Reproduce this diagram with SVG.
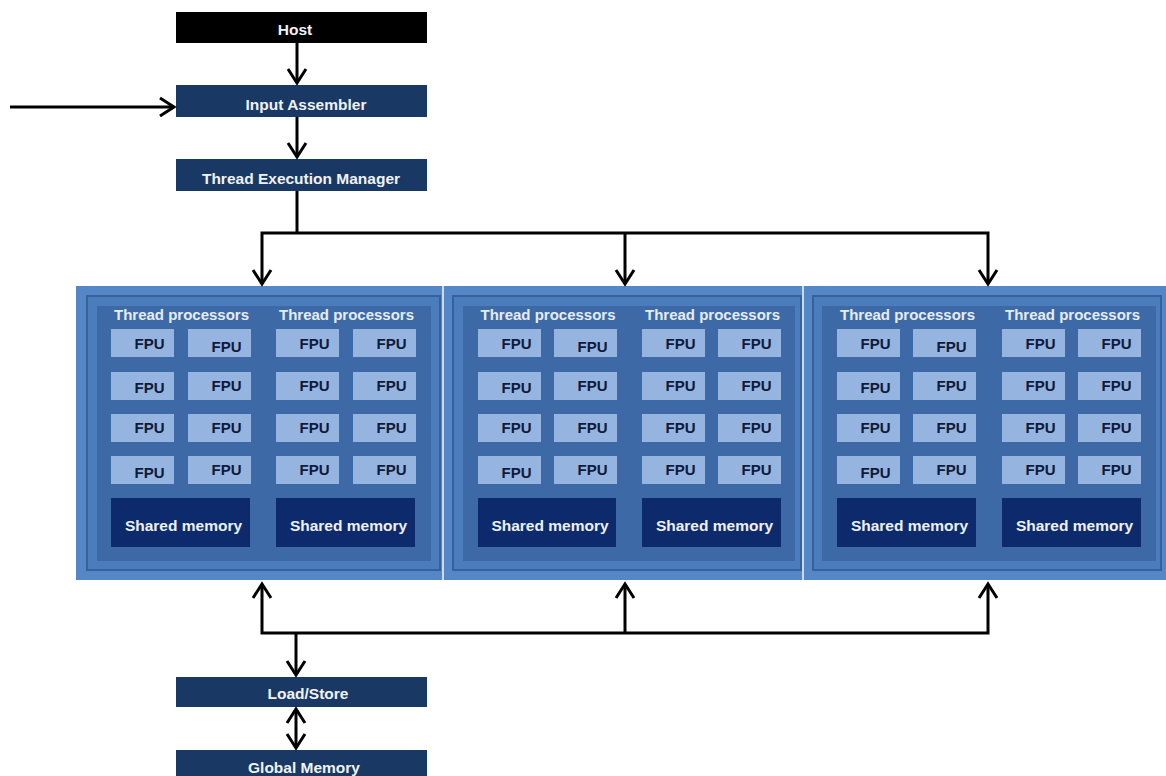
<svg xmlns="http://www.w3.org/2000/svg" width="1166" height="776" viewBox="0 0 1166 776">
<defs>
<style>
.lbl{font-family:"Liberation Sans",Arial,sans-serif;font-weight:bold;fill:#f0f3f8;text-anchor:middle;font-size:15.5px}
.tp{font-family:"Liberation Sans",Arial,sans-serif;font-weight:bold;fill:#e6edf7;text-anchor:middle;font-size:15px}
.fpu rect{fill:#95b4df}
.fpu text{font-family:"Liberation Sans",Arial,sans-serif;font-weight:bold;fill:#101a3a;text-anchor:middle;font-size:15px}
.sm rect{fill:#0d2b6c}
.sm text{font-family:"Liberation Sans",Arial,sans-serif;font-weight:bold;fill:#eef2f8;text-anchor:middle;font-size:15.5px}
.navy{fill:#1a3864}
.frame{fill:#4b7cbc;stroke:#36619d;stroke-width:2}
.inner{fill:#3d6aa7}
.conn{fill:none;stroke:#000;stroke-width:3}
</style>
<marker id="ah" markerUnits="userSpaceOnUse" markerWidth="24" markerHeight="24" viewBox="-18 -12 22 24" refX="0" refY="0" orient="auto-start-reverse">
<path d="M-14,-9 L0,0 L-14,9" fill="none" stroke="#000" stroke-width="3"/>
</marker>
</defs>
<rect width="1166" height="776" fill="#ffffff"/>

<g id="host"><rect x="176" y="12" width="251" height="31" fill="#000"/><text class="lbl" x="295" y="35">Host</text></g>
<g id="input-assembler"><rect class="navy" x="176" y="85" width="251" height="32"/><text class="lbl" x="306" y="110">Input Assembler</text></g>
<g id="thread-execution-manager"><rect class="navy" x="176" y="159" width="251" height="32"/><text class="lbl" x="301" y="184">Thread Execution Manager</text></g>

<g id="panel">
<rect x="76" y="286" width="1090" height="294" fill="#5587c6"/>
<rect x="442" y="286" width="2" height="294" fill="#c9dbf0"/>
<rect x="802" y="286" width="2" height="294" fill="#c9dbf0"/>
</g>

<g id="sm1">
<rect class="frame" x="87" y="296" width="353" height="274"/>
<rect class="inner" x="97" y="306" width="334" height="255"/>
<text class="tp" x="181.5" y="320">Thread processors</text>
<text class="tp" x="346.5" y="320">Thread processors</text>
<g class="fpu">
<rect x="111" y="329" width="63" height="28"/><text x="149.5" y="349">FPU</text>
<rect x="188" y="329" width="63" height="28"/><text x="226.5" y="352">FPU</text>
<rect x="276" y="329" width="63" height="28"/><text x="314.5" y="349">FPU</text>
<rect x="353" y="329" width="63" height="28"/><text x="391.5" y="349">FPU</text>
<rect x="111" y="372" width="63" height="28"/><text x="149.5" y="393">FPU</text>
<rect x="188" y="372" width="63" height="28"/><text x="226.5" y="391">FPU</text>
<rect x="276" y="372" width="63" height="28"/><text x="314.5" y="391">FPU</text>
<rect x="353" y="372" width="63" height="28"/><text x="391.5" y="391">FPU</text>
<rect x="111" y="414" width="63" height="28"/><text x="149.5" y="433">FPU</text>
<rect x="188" y="414" width="63" height="28"/><text x="226.5" y="433">FPU</text>
<rect x="276" y="414" width="63" height="28"/><text x="314.5" y="433">FPU</text>
<rect x="353" y="414" width="63" height="28"/><text x="391.5" y="433">FPU</text>
<rect x="111" y="456" width="63" height="28"/><text x="149.5" y="477.5">FPU</text>
<rect x="188" y="456" width="63" height="28"/><text x="226.5" y="475">FPU</text>
<rect x="276" y="456" width="63" height="28"/><text x="314.5" y="475">FPU</text>
<rect x="353" y="456" width="63" height="28"/><text x="391.5" y="475">FPU</text>
</g>
<g class="sm">
<rect x="111" y="498" width="139" height="49"/><text x="183.5" y="531">Shared memory</text>
<rect x="276" y="498" width="139" height="49"/><text x="348.5" y="531">Shared memory</text>
</g>
</g>

<g id="sm2">
<rect class="frame" x="453" y="296" width="348" height="274"/>
<rect class="inner" x="463" y="306" width="332" height="255"/>
<text class="tp" x="548" y="320">Thread processors</text>
<text class="tp" x="712.5" y="320">Thread processors</text>
<g class="fpu">
<rect x="478" y="329" width="63" height="28"/><text x="516.5" y="349">FPU</text>
<rect x="554" y="329" width="63" height="28"/><text x="592.5" y="352">FPU</text>
<rect x="642" y="329" width="63" height="28"/><text x="680.5" y="349">FPU</text>
<rect x="718" y="329" width="63" height="28"/><text x="756.5" y="349">FPU</text>
<rect x="478" y="372" width="63" height="28"/><text x="516.5" y="393">FPU</text>
<rect x="554" y="372" width="63" height="28"/><text x="592.5" y="391">FPU</text>
<rect x="642" y="372" width="63" height="28"/><text x="680.5" y="391">FPU</text>
<rect x="718" y="372" width="63" height="28"/><text x="756.5" y="391">FPU</text>
<rect x="478" y="414" width="63" height="28"/><text x="516.5" y="433">FPU</text>
<rect x="554" y="414" width="63" height="28"/><text x="592.5" y="433">FPU</text>
<rect x="642" y="414" width="63" height="28"/><text x="680.5" y="433">FPU</text>
<rect x="718" y="414" width="63" height="28"/><text x="756.5" y="433">FPU</text>
<rect x="478" y="456" width="63" height="28"/><text x="516.5" y="477.5">FPU</text>
<rect x="554" y="456" width="63" height="28"/><text x="592.5" y="475">FPU</text>
<rect x="642" y="456" width="63" height="28"/><text x="680.5" y="475">FPU</text>
<rect x="718" y="456" width="63" height="28"/><text x="756.5" y="475">FPU</text>
</g>
<g class="sm">
<rect x="478" y="498" width="138" height="49"/><text x="550" y="531">Shared memory</text>
<rect x="642" y="498" width="139" height="49"/><text x="714.5" y="531">Shared memory</text>
</g>
</g>

<g id="sm3">
<rect class="frame" x="813" y="296" width="348" height="274"/>
<rect class="inner" x="822" y="306" width="334" height="255"/>
<text class="tp" x="907.5" y="320">Thread processors</text>
<text class="tp" x="1072.5" y="320">Thread processors</text>
<g class="fpu">
<rect x="837" y="329" width="63" height="28"/><text x="875.5" y="349">FPU</text>
<rect x="913" y="329" width="63" height="28"/><text x="951.5" y="352">FPU</text>
<rect x="1002" y="329" width="63" height="28"/><text x="1040.5" y="349">FPU</text>
<rect x="1078" y="329" width="63" height="28"/><text x="1116.5" y="349">FPU</text>
<rect x="837" y="372" width="63" height="28"/><text x="875.5" y="393">FPU</text>
<rect x="913" y="372" width="63" height="28"/><text x="951.5" y="391">FPU</text>
<rect x="1002" y="372" width="63" height="28"/><text x="1040.5" y="391">FPU</text>
<rect x="1078" y="372" width="63" height="28"/><text x="1116.5" y="391">FPU</text>
<rect x="837" y="414" width="63" height="28"/><text x="875.5" y="433">FPU</text>
<rect x="913" y="414" width="63" height="28"/><text x="951.5" y="433">FPU</text>
<rect x="1002" y="414" width="63" height="28"/><text x="1040.5" y="433">FPU</text>
<rect x="1078" y="414" width="63" height="28"/><text x="1116.5" y="433">FPU</text>
<rect x="837" y="456" width="63" height="28"/><text x="875.5" y="477.5">FPU</text>
<rect x="913" y="456" width="63" height="28"/><text x="951.5" y="475">FPU</text>
<rect x="1002" y="456" width="63" height="28"/><text x="1040.5" y="475">FPU</text>
<rect x="1078" y="456" width="63" height="28"/><text x="1116.5" y="475">FPU</text>
</g>
<g class="sm">
<rect x="837" y="498" width="139" height="49"/><text x="909.5" y="531">Shared memory</text>
<rect x="1002" y="498" width="139" height="49"/><text x="1074.5" y="531">Shared memory</text>
</g>
</g>

<g id="load-store"><rect class="navy" x="176" y="677" width="251" height="30"/><text class="lbl" x="308" y="699">Load/Store</text></g>
<g id="global-memory"><rect class="navy" x="176" y="750" width="251" height="30"/><text class="lbl" x="304" y="773">Global Memory</text></g>

<g id="connectors">
<line class="conn" x1="297" y1="43" x2="297" y2="83" marker-end="url(#ah)"/>
<line class="conn" x1="10" y1="107" x2="174" y2="107" marker-end="url(#ah)"/>
<line class="conn" x1="297" y1="117" x2="297" y2="157" marker-end="url(#ah)"/>
<polyline class="conn" points="297,191 297,233"/>
<polyline class="conn" points="262,284 262,233 988,233 988,284" marker-start="url(#ah)" marker-end="url(#ah)"/>
<line class="conn" x1="625" y1="233" x2="625" y2="284" marker-end="url(#ah)"/>
<polyline class="conn" points="262,584 262,633 988,633 988,584" marker-start="url(#ah)" marker-end="url(#ah)"/>
<line class="conn" x1="625" y1="633" x2="625" y2="584" marker-end="url(#ah)"/>
<line class="conn" x1="296" y1="633" x2="296" y2="675" marker-end="url(#ah)"/>
<line class="conn" x1="296" y1="709" x2="296" y2="748" marker-start="url(#ah)" marker-end="url(#ah)"/>
</g>
</svg>
